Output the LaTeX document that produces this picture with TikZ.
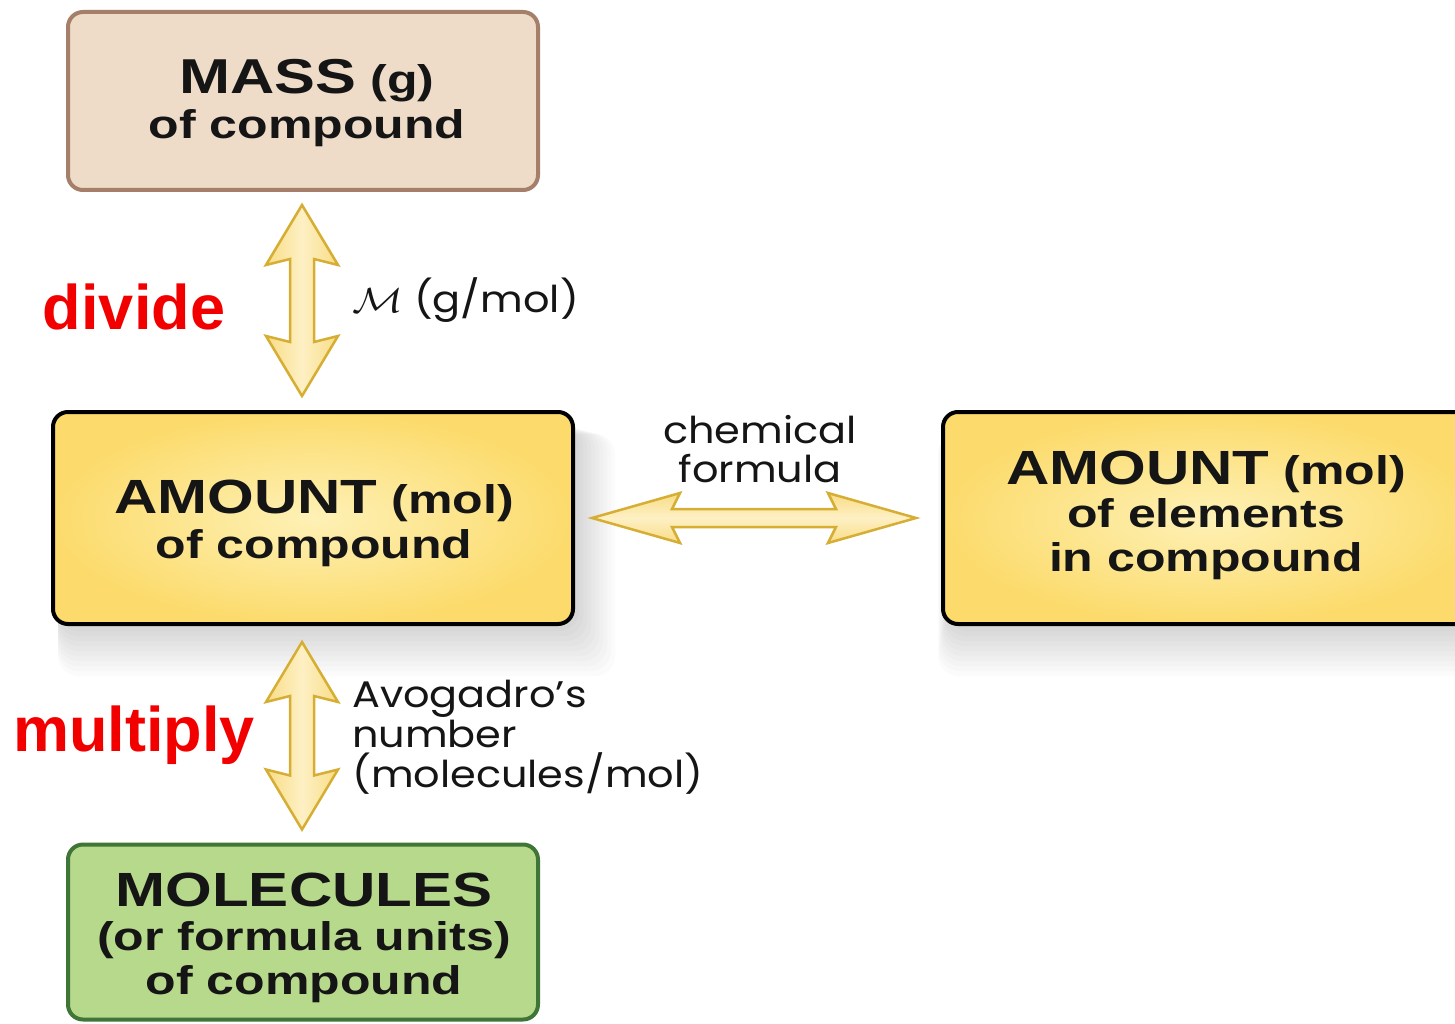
\documentclass[tikz,border=0pt]{standalone}
\usepackage{fontspec}
\setmainfont{Liberation Sans}
\newfontfamily\boxfont[FakeStretch=1.25]{Liberation Sans Bold}
\newfontfamily\labfont[FakeStretch=1.12]{Poppins}
\usetikzlibrary{calc}
\definecolor{massfill}{HTML}{EEDCC9}
\definecolor{massline}{HTML}{A67F6B}
\definecolor{molfill}{HTML}{B7D98B}
\definecolor{molline}{HTML}{3F7536}
\definecolor{yelout}{HTML}{FCDB6C}
\definecolor{yelin}{HTML}{FEF1B6}
\definecolor{arredge}{HTML}{F9DC85}
\definecolor{arrmid}{HTML}{FDF0C4}
\definecolor{arrline}{HTML}{D6AE33}
\definecolor{txt}{HTML}{151515}
\definecolor{redtxt}{HTML}{F20000}
\newcommand\vbarrow[2]{%
  \draw[blockarrow, left color=arredge, right color=arredge, middle color=arrmid] let \p1=(#1), \p2=(#2) in
  (\x1,\y1) -- (\x1+36pt,\y1-60pt) -- (\x1+12pt,\y1-54pt) -- (\x1+12pt,\y2+54pt) -- (\x1+36pt,\y2+60pt)
  -- (\x1,\y2) -- (\x1-36pt,\y2+60pt) -- (\x1-12pt,\y2+54pt) -- (\x1-12pt,\y1-54pt) -- (\x1-36pt,\y1-60pt) -- cycle;}
\newcommand\hbarrow[2]{%
  \draw[blockarrow, top color=arredge, bottom color=arredge, middle color=arrmid] let \p1=(#1), \p2=(#2) in
  (\x1,\y1) -- (\x1+88pt,\y1+25pt) -- (\x1+80pt,\y1+9pt) -- (\x2-80pt,\y1+9pt) -- (\x2-88pt,\y1+25pt)
  -- (\x2,\y1) -- (\x2-88pt,\y1-25pt) -- (\x2-80pt,\y1-9pt) -- (\x1+80pt,\y1-9pt) -- (\x1+88pt,\y1-25pt) -- cycle;}
\begin{document}
\begin{tikzpicture}[x=1pt,y=-1pt,
  boxbase/.style={draw, rectangle, rounded corners=15pt, line width=4pt, inner sep=0pt},
  massbox/.style={boxbase, draw=massline, fill=massfill},
  molbox/.style={boxbase, draw=molline, fill=molfill},
  amtbox/.style={boxbase, draw=black, inner color=yelin, outer color=yelout},
  boxtext/.style={align=center, text=txt, font=\boxfont\fontsize{40}{45}\selectfont, inner sep=0pt},
  lab/.style={text=txt, font=\labfont\fontsize{37}{40}\selectfont, inner sep=0pt},
  redlab/.style={text=redtxt, font=\bfseries\fontsize{63}{70}\selectfont, inner sep=0pt},
  blockarrow/.style={draw=arrline, line width=2.5pt, line join=miter}]
\useasboundingbox (0,0) rectangle (1455,1024);
\fill[white] (0,0) rectangle (1455,1024);
% soft shadows under the amount boxes
\foreach \i in {1,...,10}{
  \fill[black, opacity=0.016, rounded corners=20pt] (58,424+\i) rectangle (575+\i*4,626+\i*5);
  \fill[black, opacity=0.016, rounded corners=20pt] (948-\i,424+\i) rectangle (1475,626+\i*5);
}
% boxes
\node[massbox, minimum width=470pt, minimum height=178pt] (mass) at (303,101) {};
\node[amtbox, minimum width=520pt, minimum height=212pt] (amtL) at (313,518) {};
\node[amtbox, minimum width=532pt, minimum height=212pt] (amtR) at (1209,518) {};
\node[molbox, minimum width=470pt, minimum height=175pt] (mol) at (303,932) {};
% box texts
\node[boxtext] (massT) at (307,103) {{\fontsize{49}{45}\selectfont MASS} (g)\\of compound};
\node[boxtext] (amtLT) at (314,523) {{\fontsize{48}{45}\selectfont AMOUNT} (mol)\\of compound};
\node[boxtext, font=\boxfont\fontsize{40}{43.5}\selectfont] (amtRT) at (1206,515) {{\fontsize{48}{45}\selectfont AMOUNT} (mol)\\of elements\\in compound};
\node[boxtext, font=\boxfont\fontsize{40}{44}\selectfont] (molT) at (304,938) {{\fontsize{48}{45}\selectfont MOLECULES}\\(or formula units)\\of compound};
% connector coordinates
\coordinate (a1t) at ($(mass.south)+(-1,13)$);
\coordinate (a1b) at ($(amtL.north)+(-11,-14)$);
\coordinate (a2t) at ($(amtL.south)+(-11,16)$);
\coordinate (a2b) at ($(mol.north)+(-1,-13)$);
\coordinate (a3l) at ($(amtL.east)+(17,0)$);
\coordinate (a3r) at ($(amtR.west)+(-25,0)$);
\vbarrow{a1t}{a1b}
\vbarrow{a2t}{a2b}
\hbarrow{a3l}{a3r}
% labels
\node[lab, anchor=west] (molar) at (352,300) {\scalebox{1.7}[1.4]{$\mathcal{M}$} (g/mol)};
\node[lab, align=center, font=\labfont\fontsize{37}{39}\selectfont] (chem) at (760,449) {chemical\\formula};
\node[lab, align=left, anchor=west] (avo) at (352,737) {Avogadro’s\\number\\(molecules/mol)};
\node[redlab] (divide) at (134,307) {divide};
\node[redlab] (multiply) at (134,735) {multiply};
\end{tikzpicture}
\end{document}
